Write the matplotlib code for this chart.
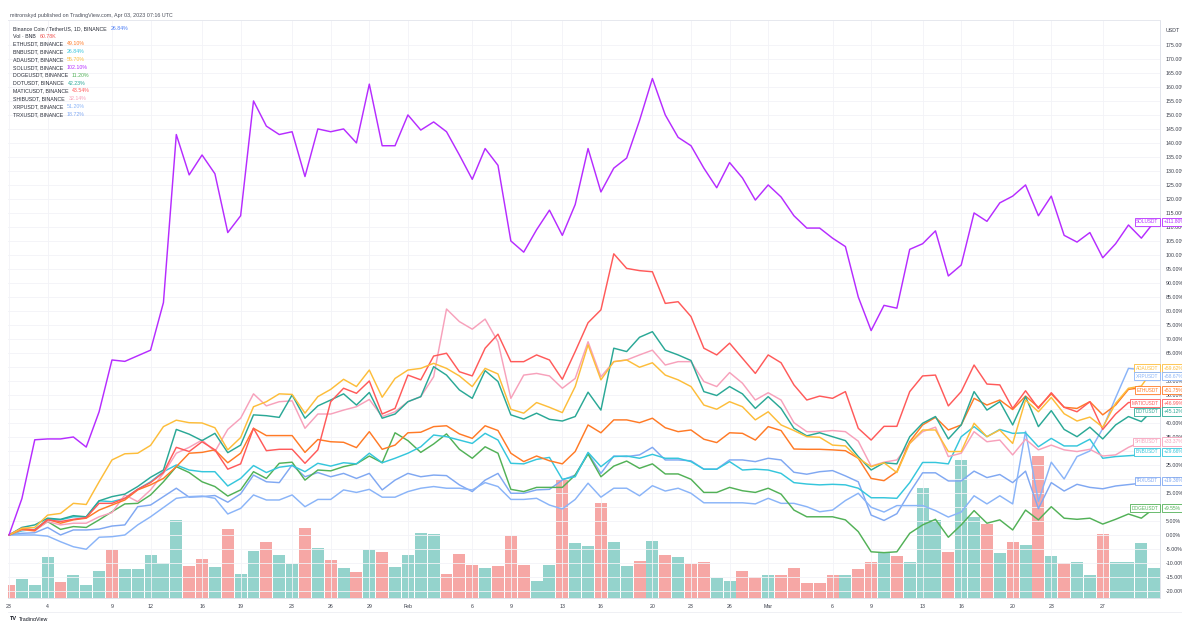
import numpy as np
import pandas as pd
import matplotlib
matplotlib.use("Agg")
import matplotlib.pyplot as plt
import matplotlib.transforms as mtransforms

# ---------------- data ----------------
dates = pd.date_range("2023-01-01", periods=90, freq="D")

sol = [0, 13, 34, 34.3, 34.3, 35, 31.4, 44, 62.5, 62, 64, 66, 83,
       143, 128.6, 135.7, 129, 108, 114, 155, 146, 143, 144, 128, 145, 144, 145, 140, 161,
       139, 139, 150, 144.6, 147.5, 144, 135.7, 127, 138, 132, 105, 101, 109, 116, 107, 118,
       138, 122.5, 131, 134.6, 148, 163, 150, 142, 139, 131, 124, 133, 127.5, 119.6, 125,
       120.7, 114, 109.6, 109.6, 106, 103, 85, 73, 82, 81, 102, 104, 108.6, 92.5, 96.4, 115,
       112, 118.6, 121, 125, 114, 121, 107, 104.6, 108, 99, 104, 110.7, 106, 111.8]

ada = [0, 2.4, 2.7, 7.1, 7.7, 11.3, 10.9, 19, 26.8, 29, 29.2, 32, 38.7, 41, 40.1, 40, 38.3, 30.4, 34.8, 45.8, 47.6, 50.4, 50.2,
       43.5, 49.4, 52, 55.6, 53, 58.9, 49.2, 55.9, 58.9, 59.5, 61.3, 59.5, 56.8, 53, 59.5, 57.5, 44.9, 43.5, 47.3, 45.6, 43.7, 53, 67.9,
       55.4, 61.9, 62.5, 59.9, 61.5, 57.1, 55.4, 53, 46.4, 44.9, 47.6, 45.8, 41.1, 44, 39.3, 37.3, 35.1, 34.9, 32.1, 31.8, 27.4, 24.4, 25.8,
       22.3, 32.7, 37.5, 37.5, 29.8, 29.8, 39.9, 35.1, 37.5, 32.7, 48.2, 44, 49.1, 43.3, 40.7, 42.1, 38.5, 47, 52.4, 53.2, 59.62]

dot = [0, 2.7, 3.6, 6, 5.6, 6.9, 6.5, 12.2, 13.7, 14.6, 17.3, 20.6, 23.2, 37.7, 36, 33.7, 36.3, 29.4, 32.1, 42.9, 42.6, 42, 50,
       41.7, 46.1, 48.2, 50.4, 46.4, 50.9, 41.7, 43.2, 47.6, 49.4, 60.1, 57.1, 51.8, 48.8, 58.7, 54.8, 42.9, 41.4, 43.5, 41.3, 40.7, 42.3, 51,
       44.6, 66.7, 65.5, 70.6, 72.6, 66, 64.3, 62.3, 51.2, 49.8, 53, 50.4, 45.2, 49.4, 45.2, 38.1, 35.4, 36.5, 35.1, 33.7, 28, 23.2, 25.8,
       25.4, 35.1, 39.9, 42.3, 34.3, 39.3, 51.2, 44.6, 47.6, 39.3, 49.4, 38.7, 44.4, 37.7, 35.1, 38.5, 34.3, 39.3, 42.3, 40.5, 45.12]

matic = [0, 2.4, 1.8, 5.4, 4.8, 5.6, 6.2, 11.3, 11.3, 13.1, 16.3, 18.7, 22.3, 31.3, 29.8, 33.3, 30.4, 23.5, 25.4, 38.1, 30.1, 30.6, 30.6,
         25.6, 30.4, 47.6, 52.4, 50.6, 55, 43.2, 45.2, 57.1, 55.4, 63.9, 64.9, 58.3, 56.8, 66.7, 71.7, 61.9, 61.9, 64.3, 62.5, 55.6, 65.5, 75.8,
         80.4, 100.4, 95.2, 94.4, 94, 82.7, 83.3, 78, 66.7, 64.3, 68.5, 63.1, 57.7, 64.3, 61.5, 53.6, 48.2, 49.6, 48.8, 51.2, 38.1, 33.9, 38.8,
         38.8, 51.2, 56.8, 57.1, 46.1, 51.2, 60.7, 53.9, 53.6, 45.2, 51.5, 45.2, 50.8, 45.6, 44, 47.6, 37.7, 43.2, 47.3, 47.5, 46.99]

eth = [0, 2, 1.5, 5.6, 4.2, 5.4, 6, 8.9, 10.7, 12.5, 16.1, 17.9, 20.2, 24.4, 29.2, 29.5, 30.4, 25.8, 29.2, 38.1, 35.5, 35.5, 35.5,
       29.5, 34.1, 33.3, 33.1, 31.2, 36.9, 30.6, 32.1, 36.5, 36.7, 38.7, 39, 36.1, 34.5, 39, 37.3, 29.2, 26.2, 28.2, 26.5, 25.4, 29.8, 39.3,
       36.5, 41.1, 41.1, 40.1, 41.7, 38.3, 36.9, 37.5, 34.2, 33, 36.5, 36.3, 33.9, 38.7, 37.3, 30.7, 30.6, 30.6, 30.4, 30.1, 27.4, 20.2, 19.4,
       22.6, 33.3, 39.3, 42, 37.5, 39.3, 48.8, 46.4, 48.2, 44.8, 49.6, 45.6, 50.4, 45.6, 45.2, 47.6, 42.9, 46.4, 52, 52.6, 51.75]

shib = [0, 1.8, 1.5, 4.8, 3.6, 4.2, 4.2, 6.5, 8, 14.3, 11.9, 16.1, 22, 29.2, 31.3, 33.9, 29.8, 37.7, 41.7, 50.4, 46.1, 47.6, 47.9,
        38.1, 43.2, 43.2, 44.6, 45.8, 48.4, 42.3, 44, 47.6, 49.4, 56.5, 80.7, 76.2, 73.5, 77.1, 69, 48.8, 57.1, 57.7, 56.8, 52.4, 55.9, 69,
        56.5, 61.9, 62.5, 64.3, 66, 60.7, 61.9, 61.9, 54.8, 53, 58, 54.2, 48.2, 50.8, 48.2, 40.1, 36.9, 36.9, 37.3, 36.9, 33.5, 24.6, 26,
        26.8, 32.7, 36.9, 38.5, 28, 29.2, 36.9, 33.3, 33.9, 28.6, 34.2, 30.4, 32.1, 30.4, 29.8, 30.6, 28.2, 28.6, 31.3, 33.3, 33.37]

bnb = [0, 1.5, 2, 5.6, 5.4, 6.5, 6.5, 12.2, 11.9, 13.1, 16.3, 19, 22.6, 25, 23.2, 22.6, 22.6, 17.5, 20.2, 24.8, 22.3, 24.2, 24.8,
       22.6, 25.6, 24.6, 25.8, 25.4, 29.2, 25.8, 27.4, 29.2, 31.5, 35.7, 35.1, 33.9, 32.7, 36.3, 33.9, 25.6, 25.4, 27, 27.7, 19.9, 20.8, 29.5,
       24.4, 28, 28.2, 27.4, 28.8, 27.4, 27.4, 26.2, 23.5, 23.5, 26.2, 23.2, 23.5, 23.2, 22, 18.7, 18.2, 17.9, 18.1, 17.9, 16.7, 13.3, 13.3,
       13.1, 18.7, 25.9, 25.9, 25.4, 35.1, 38.7, 35.1, 37.7, 36.3, 36.5, 31.5, 34.5, 31.8, 31.8, 34.2, 27.4, 28, 28.3, 28.6, 29.66]

doge = [0, 2, 1.8, 4.8, 2, 3, 2.7, 5.4, 8.3, 11.1, 11.3, 14.3, 19, 24.4, 22.3, 19, 17.3, 13.9, 16.1, 22.6, 20.2, 25.6, 26,
        19.6, 23.2, 22.9, 24.4, 25.4, 28.2, 25.8, 36.5, 33.7, 29.5, 32.5, 36.1, 30.6, 27.4, 31.5, 29.2, 16.3, 15.5, 17, 17, 17, 21.4, 28.9,
        20.8, 24.6, 26.4, 23.8, 25.4, 21.8, 21.8, 19.9, 15.2, 15.2, 17, 15.8, 15.2, 16.7, 14.6, 8.9, 6.5, 6.5, 6.5, 5.4, 1.2, -6, -6.3,
        -6, 0.6, 3.6, 5.6, -0.8, 3.6, 8.7, 4.2, 5.4, 1.8, 8.9, 5.4, 10.1, 6, 5.6, 6, 3.9, 5.6, 7.5, 6, 9.55]

xrp = [0, 0, 0, -0.4, -2.4, -4.2, -5.1, -0.8, -0.6, 0, 3.6, 6.5, 9.8, 13.1, 13.7, 13.9, 13.1, 7.5, 9.5, 14.3, 12.5, 12.5, 14.3,
       10.1, 12.7, 12.7, 16.1, 15.2, 16.3, 13.5, 13.5, 15.5, 16.7, 17.3, 16.7, 16.7, 16.1, 18.7, 17.3, 12.7, 12.7, 13.1, 10.7, 9.3, 12.7, 18.5,
       13.5, 16.7, 16.7, 14, 17.6, 15.7, 16.7, 14.9, 11.5, 11.5, 11.5, 11.5, 11.1, 13.1, 11.3, 11.3, 10.1, 8.3, 8.9, 12.3, 14.9,
       9.9, 8.2, 10.5, 10.5, 10.5, 8.7, 6.4, 8.2, 14, 11.1, 14, 11.1, 37, 12, 26, 20, 28, 30, 38, 49, 59.5, 59, 58.67]

trx = [0, 0.6, 0.8, 2.7, 0, 1.8, 1.8, 2.1, 3.2, 3.6, 10.1, 10.7, 13.7, 16.7, 13.5, 13.7, 14.1, 11.7, 14.7, 21.4, 19, 18.7, 25,
       20.8, 22.3, 20.8, 22, 20.2, 22, 16.1, 19.6, 22, 20.8, 21.4, 21.2, 17.9, 15.5, 19.6, 22, 14.9, 14.9, 16.1, 16.3, 19.6, 21.4, 29.2,
       22, 28.2, 28, 28.6, 31.3, 26.8, 26.8, 26.5, 23.5, 23.5, 26.8, 26.8, 26.2, 27.4, 26.8, 22.4, 21.7, 22.6, 23, 21.1, 19,
       7.1, 5.2, 7.6, 15.2, 22.2, 22.2, 19.3, 19.3, 22.8, 20.5, 21.6, 18.7, 22.8, 9.4, 18.7, 15.7, 18.1, 17, 16.5, 17.5, 18, 18.5, 19.36]

# BNB volume (thousands) and bar direction (u = up day, d = down day)
volume_k = [26, 39, 26, 83, 33, 46, 26, 54, 97, 59,
            59, 87, 70, 157, 64, 79, 63, 138, 48, 94,
            112, 86, 68, 140, 100, 77, 61, 52, 97, 93,
            63, 87, 131, 129, 48, 89, 66, 60, 65, 125,
            67, 35, 66, 237, 110, 104, 190, 113, 64, 75,
            115, 87, 83, 68, 73, 41, 34, 54, 43, 47,
            47, 60, 30, 30, 47, 47, 59, 72, 90, 84,
            72, 220, 157, 92, 277, 162, 148, 90, 113, 107,
            284, 85, 70, 72, 47, 128, 73, 73, 110, 60.78]
vol_dir = ("duuuduuudu" "uuuudduduu" "duudududud" "uuuudddudd" "duuduuduud"
           "ududduuddu" "ddddduddud" "uuuduududu" "duduuduuuu")

tick_dates = ["2023-01-01", "2023-01-04", "2023-01-09", "2023-01-12", "2023-01-16", "2023-01-19",
              "2023-01-23", "2023-01-26", "2023-01-29", "2023-02-01", "2023-02-06", "2023-02-09",
              "2023-02-13", "2023-02-16", "2023-02-20", "2023-02-23", "2023-02-26", "2023-03-01",
              "2023-03-06", "2023-03-09", "2023-03-13", "2023-03-16", "2023-03-20", "2023-03-23",
              "2023-03-27"]
tick_labels = ["23", "4", "9", "12", "16", "19", "23", "26", "29", "Feb", "6", "9", "13", "16",
               "20", "23", "26", "Mar", "6", "9", "13", "16", "20", "23", "27"]

legend_names = ["ETHUSDT", "BNBUSDT", "ADAUSDT", "SOLUSDT", "DOGEUSDT", "DOTUSDT",
                "MATICUSDT", "SHIBUSDT", "XRPUSDT", "TRXUSDT"]
legend_values = ["49.10%", "26.84%", "55.70%", "102.10%", "11.20%", "42.23%",
                 "43.54%", "32.14%", "51.20%", "18.72%"]

colors = {"SOLUSDT": "#b62cff", "ADAUSDT": "#fdbd3a", "DOTUSDT": "#2aa896", "MATICUSDT": "#ff5a5a",
          "ETHUSDT": "#ff7a26", "SHIBUSDT": "#f7a1bb", "BNBUSDT": "#35c6dc", "DOGEUSDT": "#52b157",
          "XRPUSDT": "#8ab4f8", "TRXUSDT": "#80a8f2"}
series = {"ETHUSDT": eth, "BNBUSDT": bnb, "ADAUSDT": ada, "SOLUSDT": sol, "DOGEUSDT": doge,
          "DOTUSDT": dot, "MATICUSDT": matic, "SHIBUSDT": shib, "XRPUSDT": xrp, "TRXUSDT": trx}
for k, v in series.items():
    assert len(v) == 90, (k, len(v))
assert len(volume_k) == 90 and len(vol_dir) == 90

# ---------------- figure ----------------
plt.rcParams["font.family"] = ["Liberation Sans", "DejaVu Sans"]
W, H = 1182, 621
fig = plt.figure(figsize=(W / 100, H / 100), dpi=100, facecolor="white")
L, R, T, B = 8, 1160, 20, 598
ax = fig.add_axes([L / W, 1 - B / H, (R - L) / W, (B - T) / H])
axv = ax.twinx()
ax.set_zorder(axv.get_zorder() + 1)
ax.patch.set_visible(False)

one_day = pd.Timedelta(days=1)
x0 = dates[0] - 0.08 * one_day
x1 = dates[0] + 89.45 * one_day

# volume bars
up_c, dn_c = "#94d3cc", "#f6a7a5"
axv.bar(dates, volume_k, width=0.93, color=[up_c if c == "u" else dn_c for c in vol_dir],
        linewidth=0)
axv.set_ylim(0, 1156)
axv.set_yticks([])
for s in axv.spines.values():
    s.set_visible(False)

# lines
order = ["TRXUSDT", "XRPUSDT", "DOGEUSDT", "BNBUSDT", "SHIBUSDT", "ETHUSDT", "DOTUSDT",
         "MATICUSDT", "ADAUSDT", "SOLUSDT"]
for name in order:
    ax.plot(dates, series[name], color=colors[name], lw=1.05, solid_joinstyle="round")

ax.set_xlim(x0, x1)
axv.set_xlim(x0, x1)
ax.set_ylim(-22.5, 183.9)

yt = np.arange(-20, 180, 5)
ax.set_yticks(yt)
ax.set_yticklabels([f"{v:.2f}%" for v in yt])
ax.yaxis.tick_right()
ax.tick_params(axis="y", length=0, pad=4, labelsize=3.8, labelcolor="#3a3e4a")
ax.set_xticks(pd.to_datetime(tick_dates))
ax.set_xticklabels(tick_labels)
ax.tick_params(axis="x", length=0, pad=4.5, labelsize=3.8, labelcolor="#3a3e4a")
ax.grid(True, color="#f2f3f7", lw=0.6)
ax.set_axisbelow(True)
ax.spines["left"].set_visible(False)
ax.spines["top"].set_color("#e6e8ee")
ax.spines["right"].set_color("#e0e3eb")
ax.spines["bottom"].set_color("#e0e3eb")
for s in ["top", "right", "bottom"]:
    ax.spines[s].set_linewidth(0.7)

# bottom time-scale border
fig.add_artist(plt.Line2D([L / W, 1], [1 - 612 / H] * 2, color="#eceef3", lw=0.6))

# end labels (name box inside the pane, value box on the price scale)
trans_lbl = mtransforms.blended_transform_factory(ax.transAxes, ax.transData)
ends = sorted([(series[n][-1], n) for n in series if n != "SOLUSDT"], reverse=True)
sep = 2.9
prev = None
placed = [(sol[-1], sol[-1], "SOLUSDT")]
for val, name in ends:
    y = val if prev is None else min(val, prev - sep)
    placed.append((y, val, name))
    prev = y
for y, val, name in placed:
    c = colors[name]
    ax.text(0.9985, y, name, transform=trans_lbl, ha="right", va="center", fontsize=3.4,
            color=c, bbox=dict(boxstyle="square,pad=0.32", fc="white", ec=c, lw=0.6),
            zorder=10, clip_on=False)
    ax.text(1.0035, y, f"+{val:.2f}%", transform=trans_lbl, ha="left", va="center",
            fontsize=3.6, color=c, bbox=dict(boxstyle="square,pad=0.32", fc="white", ec=c, lw=0.6),
            zorder=10, clip_on=False)

# price scale caption
fig.text(1166 / W, 1 - 30 / H, "USDT", fontsize=3.8, color="#3a3e4a", va="center", ha="left")

# header
fig.text(10 / W, 1 - 15 / H, "mitronskyd published on TradingView.com, Apr 03, 2023 07:16 UTC",
         fontsize=3.9, color="#4a4e5a", va="center", ha="left")

# legend
leg_x = 12.7 / W
leg_rows = [("Binance Coin / TetherUS, 1D, BINANCE", "26.84%", "#4a7cf6"),
            ("Vol \u00b7 BNB", "60.78K", "#ef5350")]
leg_rows += [(f"{n}, BINANCE", v, colors[n]) for n, v in zip(legend_names, legend_values)]
for i, (txt, val, c) in enumerate(leg_rows):
    yy = 1 - (28.3 + 7.82 * i) / H
    t = fig.text(leg_x, yy, txt, fontsize=3.75, color="#2a2e39", va="center", ha="left")
    ax.annotate(val, xy=(1, 0.5), xycoords=t, xytext=(2.8, 0), textcoords="offset points",
                fontsize=3.75, color=c, va="center", ha="left", annotation_clip=False)

# TradingView mark
fig.text(10 / W, 1 - 619 / H, "TV", fontsize=4, fontweight="bold", color="#131722", va="center")
fig.text(19 / W, 1 - 619 / H, "TradingView", fontsize=3.8, color="#131722", va="center")

fig.savefig("out.png", dpi=100, facecolor="white")
